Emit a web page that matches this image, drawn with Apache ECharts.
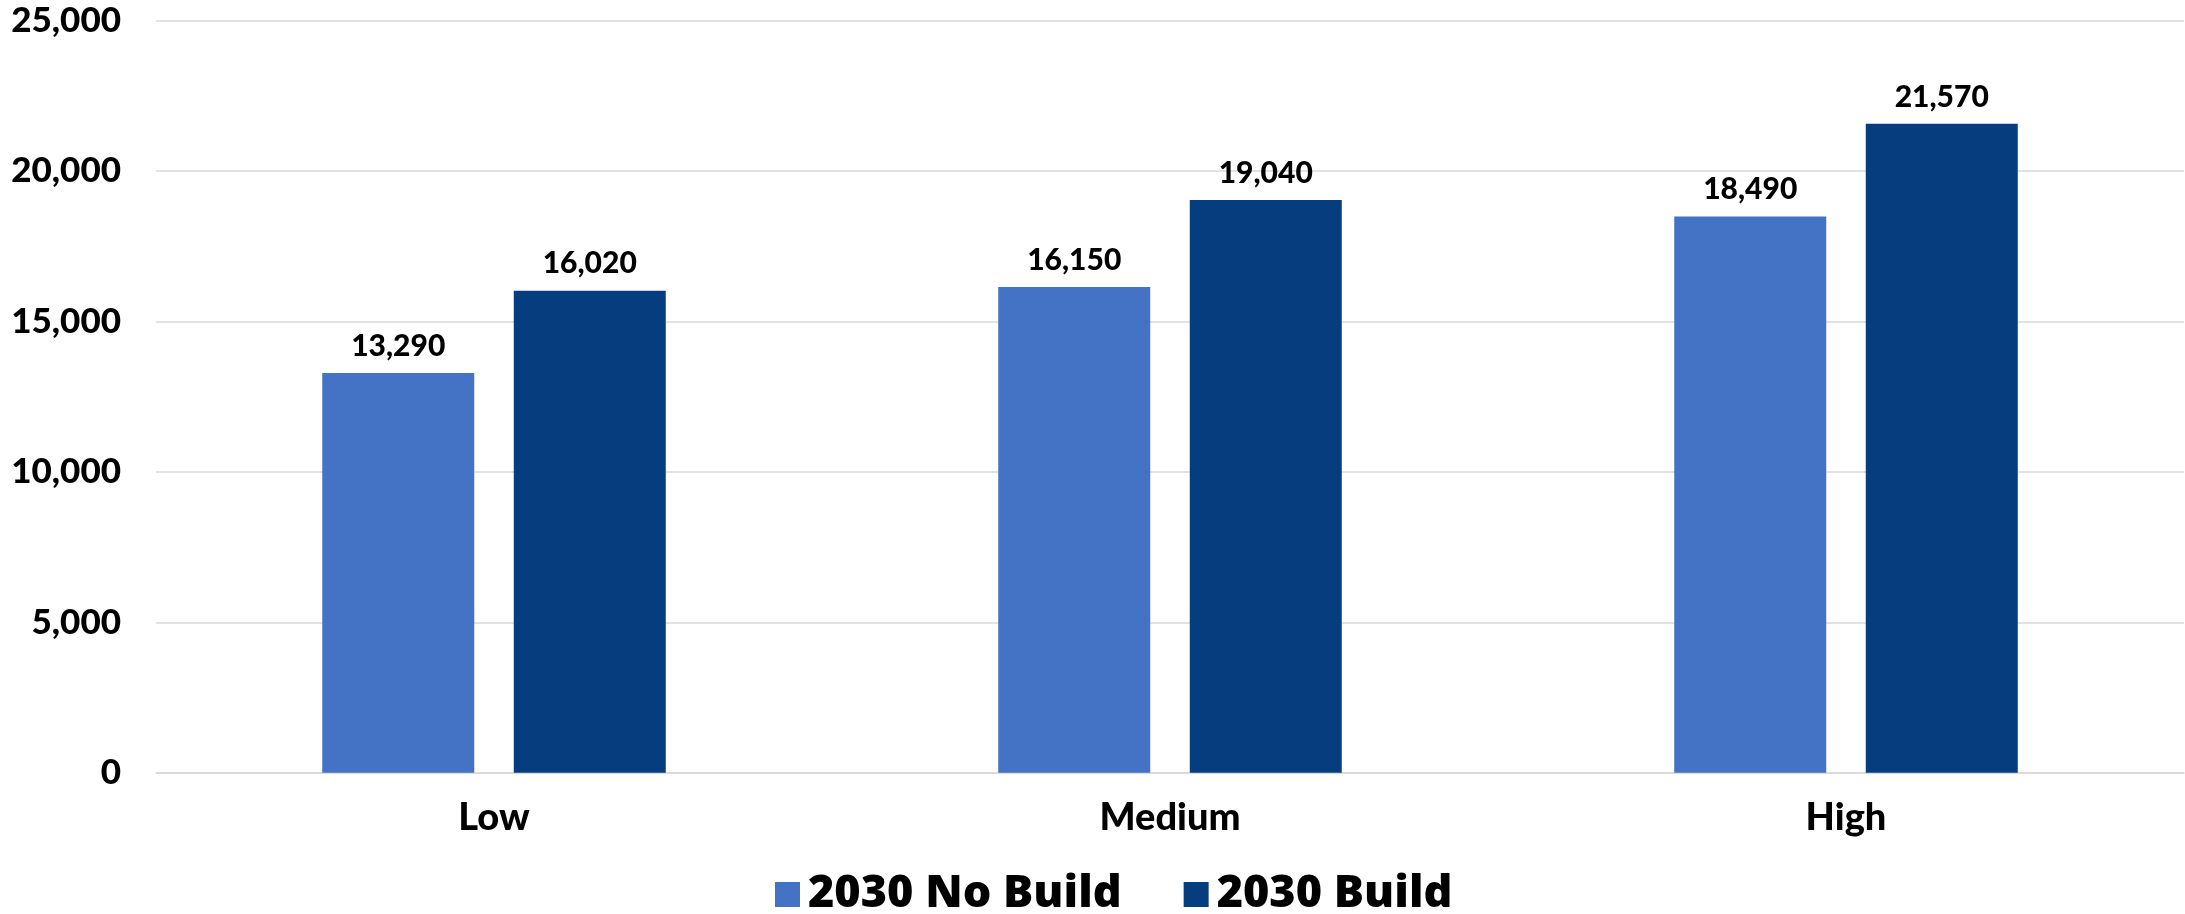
<!DOCTYPE html>
<html>
<head>
<meta charset="utf-8">
<script src="https://cdn.jsdelivr.net/npm/echarts@6/dist/echarts.min.js"></script>
<style>
html,body{margin:0;padding:0;background:#fff;}
#chart{width:2185px;height:914px;}
</style>
</head>
<body>
<div id="chart"></div>
<script>
const categories = ['Low', 'Medium', 'High'];
const noBuild = [13290, 16150, 18490];
const build = [16020, 19040, 21570];
const seriesNames = ['2030 No Build', '2030 Build'];
const yTicks = { min: 0, max: 25000, interval: 5000 };

const fmt = v => Number(v).toLocaleString('en-US');
const chart = echarts.init(document.getElementById('chart'));
const labelStyle = {
  show: true, position: 'top', distance: 12,
  fontFamily: 'Lato', fontWeight: 900, fontSize: 30, color: '#000',
  formatter: p => fmt(p.value)
};
chart.setOption({
  animation: false,
  backgroundColor: '#fff',
  grid: { left: 156, right: 1, top: 20.7, bottom: 141.3 },
  legend: {
    data: seriesNames,
    left: 770, top: 867,
    itemWidth: 25, itemHeight: 25, itemGap: 62,
    icon: 'rect',
    textStyle: { fontFamily: 'Open Sans', fontWeight: 800, fontSize: 45, color: '#000', padding: [0, 0, 0, 3] }
  },
  xAxis: {
    type: 'category', data: categories,
    axisLine: { show: true, lineStyle: { color: '#d9d9d9', width: 1.5 } },
    axisTick: { show: false },
    axisLabel: { fontFamily: 'Lato', fontWeight: 900, fontSize: 38, color: '#000', margin: 26 }
  },
  yAxis: {
    type: 'value', min: yTicks.min, max: yTicks.max, interval: yTicks.interval,
    axisLine: { show: false }, axisTick: { show: false },
    splitLine: { lineStyle: { color: '#d9d9d9', width: 1.5 } },
    axisLabel: { fontFamily: 'Lato', fontWeight: 900, fontSize: 35, color: '#000', margin: 35, formatter: v => fmt(v) }
  },
  series: [
    { name: seriesNames[0], type: 'bar', data: noBuild, barWidth: 152, barGap: '26%',
      itemStyle: { color: '#4472C4' }, label: labelStyle },
    { name: seriesNames[1], type: 'bar', data: build, barWidth: 152, barGap: '26%',
      itemStyle: { color: '#063D7F' }, label: labelStyle }
  ]
});
</script>
</body>
</html>
